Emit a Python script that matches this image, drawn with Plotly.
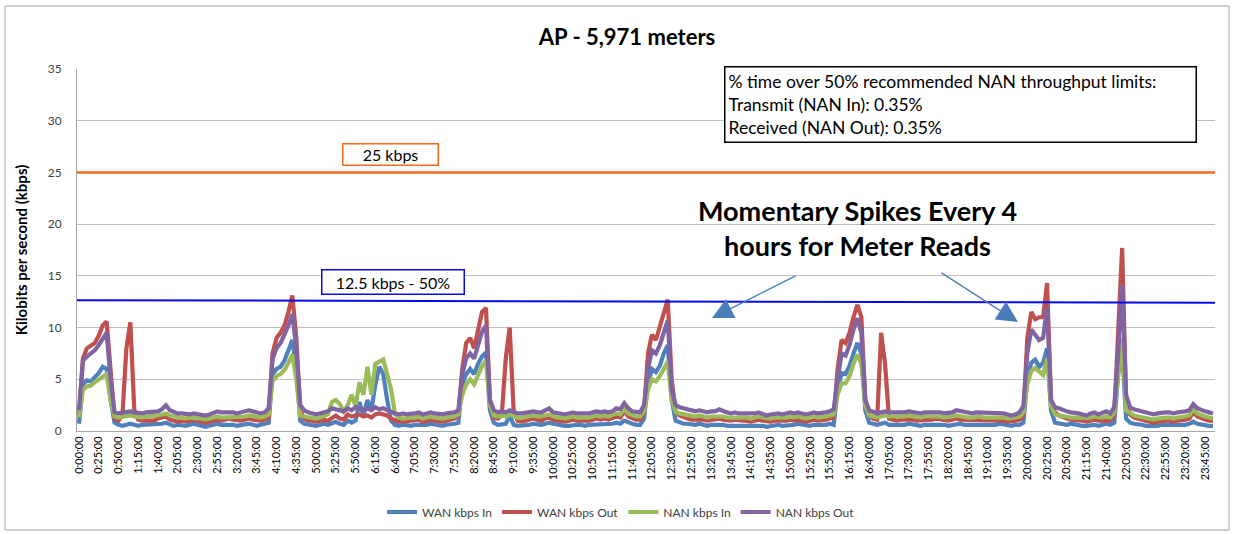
import plotly.graph_objects as go

# 5-minute samples over one day (288 points)
times = [f"{(m // 60)}:{m % 60:02d}:00" for m in range(0, 1440, 5)]
tick_labels = times[::5]

wan_in = [
    0.7, 4.5, 4.9, 4.8, 5.2, 5.6, 6.2, 6.0, 3.0, 0.8, 0.6, 0.5,
    0.6, 0.7, 0.6, 0.5, 0.6, 0.6, 0.7, 0.6, 0.6, 0.7, 0.8, 0.6,
    0.5, 0.6, 0.5, 0.5, 0.6, 0.7, 0.6, 0.5, 0.4, 0.5, 0.6, 0.7,
    0.6, 0.6, 0.7, 0.6, 0.5, 0.6, 0.6, 0.7, 0.6, 0.5, 0.6, 0.7,
    0.8, 5.5, 6.0, 6.2, 6.8, 7.8, 8.8, 6.0, 1.0, 0.7, 0.6, 0.6,
    0.5, 0.6, 0.7, 0.6, 0.8, 0.9, 0.7, 0.6, 1.0, 0.8, 1.0, 2.8,
    1.5, 3.0, 2.0, 4.5, 6.2, 5.5, 3.0, 1.0, 0.6, 0.5, 0.6, 0.5,
    0.5, 0.6, 0.6, 0.5, 0.6, 0.7, 0.6, 0.5, 0.5, 0.6, 0.6, 0.7,
    0.8, 4.5, 5.5, 6.0, 5.5, 6.5, 7.2, 7.6, 2.0, 0.8, 0.6, 0.6,
    0.7, 1.5, 0.6, 0.5, 0.5, 0.6, 0.6, 0.7, 0.6, 0.6, 0.7, 0.8,
    0.7, 0.6, 0.6, 0.5, 0.5, 0.6, 0.6, 0.6, 0.5, 0.6, 0.6, 0.7,
    0.6, 0.7, 0.6, 0.7, 0.8, 0.7, 1.0, 0.8, 0.7, 0.6, 0.6, 1.2,
    4.5, 6.0, 5.7, 6.3, 7.5, 8.3, 3.0, 1.0, 0.8, 0.7, 0.7, 0.6,
    0.6, 0.7, 0.6, 0.5, 0.6, 0.6, 0.7, 0.6, 0.5, 0.5, 0.6, 0.6,
    0.6, 0.5, 0.5, 0.6, 0.6, 0.5, 0.4, 0.5, 0.6, 0.6, 0.5, 0.5,
    0.6, 0.6, 0.7, 0.6, 0.5, 0.5, 0.6, 0.6, 0.5, 0.6, 0.7, 0.6,
    4.0, 5.6, 5.5, 6.3, 7.5, 8.5, 7.5, 2.0, 0.8, 0.7, 0.6, 0.7,
    0.8, 0.6, 0.6, 0.5, 0.6, 0.6, 0.7, 0.6, 0.6, 0.5, 0.6, 0.6,
    0.6, 0.7, 0.6, 0.6, 0.5, 0.6, 0.7, 0.7, 0.6, 0.6, 0.5, 0.6,
    0.6, 0.6, 0.5, 0.6, 0.6, 0.7, 0.6, 0.5, 0.5, 0.6, 0.6, 0.8,
    5.0, 6.6, 6.9, 6.2, 6.6, 8.0, 2.0, 0.8, 0.7, 0.6, 0.6, 0.7,
    0.6, 0.6, 0.5, 0.5, 0.6, 0.6, 0.5, 0.6, 0.7, 0.6, 0.8, 5.5,
    8.0, 1.2, 0.8, 0.7, 0.7, 0.6, 0.5, 0.5, 0.4, 0.5, 0.6, 0.6,
    0.6, 0.5, 0.5, 0.6, 0.6, 0.7, 0.9, 0.7, 0.6, 0.5, 0.5, 0.5,
]

wan_out = [
    1.5, 7.0, 8.0, 8.2, 8.5, 9.2, 10.2, 10.6, 6.0, 1.2, 1.0, 1.5,
    8.0, 10.5, 2.0, 1.1, 1.0, 1.0, 1.1, 1.0, 1.2, 1.3, 1.4, 1.1,
    1.0, 0.9, 1.0, 0.9, 1.0, 1.1, 1.0, 0.9, 0.8, 0.9, 1.0, 1.1,
    1.0, 1.1, 1.2, 1.1, 1.0, 1.0, 1.1, 1.2, 1.1, 1.0, 1.0, 1.1,
    1.3, 7.5, 9.0, 9.5, 10.2, 11.5, 13.1, 9.0, 2.0, 1.2, 1.0, 1.0,
    0.9, 1.0, 1.1, 1.0, 1.3, 1.5, 1.2, 1.1, 1.6, 1.4, 1.5, 1.6,
    1.4, 1.5, 1.3, 1.6, 1.7, 1.6, 1.5, 1.2, 1.0, 0.9, 1.0, 0.9,
    1.0, 1.0, 1.1, 0.9, 1.0, 1.1, 1.0, 0.9, 0.9, 1.0, 1.1, 1.2,
    1.5, 6.0, 8.5, 9.0, 8.0, 10.0, 11.5, 11.9, 3.0, 1.3, 1.2, 1.5,
    7.0, 10.0, 2.0, 1.0, 0.9, 1.0, 1.1, 1.2, 1.1, 1.0, 1.2, 1.3,
    1.1, 1.0, 1.0, 0.9, 1.0, 1.1, 1.0, 1.0, 0.9, 1.0, 1.1, 1.2,
    1.1, 1.2, 1.1, 1.2, 1.4, 1.3, 1.9, 1.4, 1.2, 1.1, 1.1, 1.8,
    7.5, 9.3, 8.8, 10.0, 11.5, 12.7, 5.0, 1.8, 1.5, 1.3, 1.2, 1.1,
    1.1, 1.2, 1.1, 1.0, 1.1, 1.1, 1.2, 1.1, 1.0, 1.0, 1.1, 1.0,
    1.0, 1.0, 0.9, 1.0, 1.1, 1.0, 0.9, 0.9, 1.0, 1.0, 0.9, 1.0,
    1.1, 1.0, 1.1, 1.0, 0.9, 1.0, 1.1, 1.0, 1.0, 1.1, 1.2, 1.3,
    6.0, 8.8, 8.5, 9.5, 11.0, 12.2, 11.0, 3.0, 1.5, 1.2, 1.1, 9.5,
    6.5, 1.2, 1.1, 1.0, 1.1, 1.1, 1.2, 1.1, 1.0, 1.0, 1.1, 1.1,
    1.1, 1.2, 1.1, 1.0, 1.0, 1.1, 1.2, 1.1, 1.1, 1.0, 1.0, 1.1,
    1.1, 1.0, 1.0, 1.1, 1.0, 1.1, 1.0, 0.9, 0.9, 1.0, 1.1, 1.5,
    9.0, 11.5, 10.8, 11.0, 11.0, 14.3, 3.0, 1.8, 1.5, 1.3, 1.2, 1.1,
    1.1, 1.0, 1.0, 0.9, 1.0, 1.1, 1.0, 1.0, 1.1, 1.0, 1.5, 9.0,
    17.7, 3.0, 1.6, 1.3, 1.2, 1.1, 1.0, 0.9, 0.8, 0.9, 1.0, 1.0,
    1.0, 0.9, 1.0, 1.0, 1.1, 1.2, 1.8, 1.4, 1.2, 1.1, 1.0, 1.0,
]

nan_in = [
    1.3, 4.0, 4.3, 4.4, 4.7, 5.0, 5.3, 5.5, 3.0, 1.4, 1.3, 1.4,
    1.4, 1.5, 1.4, 1.3, 1.3, 1.4, 1.4, 1.5, 1.5, 1.6, 1.7, 1.5,
    1.4, 1.3, 1.3, 1.2, 1.3, 1.3, 1.2, 1.2, 1.1, 1.2, 1.3, 1.4,
    1.3, 1.3, 1.4, 1.3, 1.3, 1.4, 1.4, 1.5, 1.4, 1.3, 1.3, 1.4,
    1.6, 4.8, 5.3, 5.5, 5.9, 6.6, 7.4, 5.0, 1.5, 1.4, 1.3, 1.3,
    1.2, 1.3, 1.4, 1.6, 2.8, 3.0, 2.6, 1.9, 2.5, 3.5, 2.4, 4.7,
    3.5, 6.2, 3.5, 6.5, 6.7, 6.9, 5.5, 4.0, 1.6, 1.3, 1.2, 1.3,
    1.3, 1.3, 1.4, 1.2, 1.3, 1.4, 1.3, 1.2, 1.2, 1.3, 1.3, 1.4,
    1.6, 3.5, 4.5, 5.0, 4.5, 5.5, 6.3, 6.8, 2.5, 1.5, 1.4, 1.5,
    1.4, 1.6, 1.4, 1.3, 1.3, 1.4, 1.4, 1.5, 1.4, 1.4, 1.5, 1.6,
    1.4, 1.3, 1.3, 1.2, 1.3, 1.4, 1.3, 1.3, 1.2, 1.3, 1.4, 1.5,
    1.4, 1.5, 1.4, 1.5, 1.7, 1.6, 2.1, 1.7, 1.5, 1.4, 1.4, 1.9,
    4.0, 5.0, 4.8, 5.3, 6.0, 6.7, 3.0, 1.8, 1.7, 1.6, 1.5, 1.4,
    1.4, 1.5, 1.4, 1.3, 1.4, 1.4, 1.5, 1.4, 1.3, 1.3, 1.4, 1.3,
    1.3, 1.3, 1.2, 1.3, 1.4, 1.3, 1.2, 1.2, 1.3, 1.3, 1.2, 1.3,
    1.4, 1.3, 1.4, 1.3, 1.2, 1.3, 1.4, 1.3, 1.3, 1.4, 1.5, 1.6,
    3.5, 4.6, 4.6, 5.3, 6.5, 7.4, 6.5, 2.5, 1.5, 1.4, 1.3, 1.4,
    1.5, 1.4, 1.4, 1.3, 1.4, 1.4, 1.5, 1.4, 1.3, 1.3, 1.4, 1.4,
    1.4, 1.5, 1.4, 1.3, 1.3, 1.4, 1.5, 1.4, 1.4, 1.3, 1.3, 1.4,
    1.4, 1.3, 1.3, 1.4, 1.3, 1.4, 1.3, 1.2, 1.2, 1.3, 1.4, 1.8,
    4.5, 5.8, 6.1, 5.7, 5.4, 7.0, 2.5, 1.6, 1.5, 1.4, 1.4, 1.3,
    1.3, 1.3, 1.2, 1.2, 1.3, 1.4, 1.3, 1.3, 1.4, 1.3, 1.8, 5.5,
    9.0, 2.0, 1.7, 1.5, 1.4, 1.3, 1.2, 1.2, 1.1, 1.2, 1.3, 1.3,
    1.3, 1.2, 1.3, 1.3, 1.4, 1.5, 2.1, 1.7, 1.5, 1.4, 1.3, 1.2,
]

nan_out = [
    2.0, 6.8, 7.2, 7.5, 7.8, 8.3, 9.0, 9.5, 5.0, 1.8, 1.7, 1.8,
    1.8, 1.9, 1.8, 1.7, 1.7, 1.8, 1.8, 1.9, 1.9, 2.1, 2.5, 2.0,
    1.8, 1.7, 1.7, 1.6, 1.6, 1.7, 1.6, 1.6, 1.5, 1.6, 1.7, 1.9,
    1.8, 1.8, 1.9, 1.8, 1.7, 1.8, 1.8, 2.0, 1.9, 1.8, 1.7, 1.8,
    2.2, 7.0, 8.0, 8.5, 9.3, 10.2, 11.3, 8.0, 2.5, 2.0, 1.8, 1.7,
    1.6, 1.7, 1.8, 1.9, 2.2, 2.1, 2.0, 1.9, 2.2, 2.0, 2.3, 2.1,
    2.0, 2.2, 2.0, 2.3, 2.1, 2.2, 2.0, 1.9, 1.7, 1.6, 1.7, 1.6,
    1.6, 1.7, 1.8, 1.6, 1.7, 1.8, 1.7, 1.6, 1.6, 1.7, 1.7, 1.8,
    2.0, 5.5, 7.0, 7.5, 7.0, 8.5, 9.6, 10.2, 3.0, 2.0, 1.8, 1.9,
    1.8, 2.0, 1.8, 1.7, 1.7, 1.8, 1.8, 1.9, 1.8, 1.8, 2.0, 2.2,
    1.8, 1.7, 1.7, 1.6, 1.7, 1.8, 1.7, 1.7, 1.6, 1.7, 1.8, 1.9,
    1.8, 1.9, 1.8, 1.9, 2.2, 2.1, 2.7, 2.2, 1.9, 1.8, 1.8, 2.5,
    6.0, 7.8, 7.5, 8.3, 9.5, 10.7, 4.0, 2.5, 2.3, 2.2, 2.0, 1.9,
    1.9, 2.0, 1.9, 1.8, 1.9, 1.9, 2.1, 1.9, 1.8, 1.7, 1.8, 1.7,
    1.7, 1.7, 1.6, 1.7, 1.8, 1.7, 1.5, 1.6, 1.7, 1.7, 1.6, 1.7,
    1.8, 1.7, 1.8, 1.7, 1.6, 1.7, 1.8, 1.7, 1.7, 1.8, 1.9, 2.1,
    5.0, 7.5, 7.3, 8.3, 9.8, 10.9, 9.5, 3.0, 2.0, 1.8, 1.7, 1.8,
    1.9, 1.8, 1.8, 1.7, 1.8, 1.8, 1.9, 1.8, 1.7, 1.7, 1.8, 1.8,
    1.8, 1.9, 1.8, 1.7, 1.7, 1.8, 2.0, 1.9, 1.8, 1.7, 1.7, 1.8,
    1.8, 1.7, 1.7, 1.8, 1.7, 1.8, 1.7, 1.6, 1.5, 1.6, 1.8, 2.4,
    7.5, 9.8, 9.3, 8.8, 9.0, 12.0, 3.0, 2.3, 2.2, 2.0, 1.9, 1.8,
    1.8, 1.7, 1.6, 1.5, 1.7, 1.8, 1.6, 1.7, 1.9, 1.7, 2.3, 7.5,
    14.1, 3.5, 2.3, 2.1, 2.0, 1.9, 1.8, 1.7, 1.6, 1.7, 1.8, 1.8,
    1.8, 1.7, 1.8, 1.8, 1.9, 2.0, 2.6, 2.2, 2.0, 1.9, 1.8, 1.7,
]

series_names = ["WAN kbps In", "WAN kbps Out", "NAN kbps In", "NAN kbps Out"]
series_colors = ["#4F81BD", "#C0504D", "#9BBB59", "#8064A2"]

limit_full = 25
limit_half_start = 12.65
limit_half_end = 12.4

FONT = "Lato, 'Open Sans', sans-serif"
PL, PR, PT, PB = 77, 1215, 69, 431
PW, PH = PR - PL, PB - PT


def px(x):
    return (x - PL) / PW


def py(y):
    return (PB - y) / PH


fig = go.Figure()
for name, vals, col in zip(series_names, [wan_in, wan_out, nan_in, nan_out], series_colors):
    fig.add_trace(go.Scatter(x=times, y=vals, name=name, mode="lines",
                             line=dict(color=col, width=4.2)))

fig.update_layout(
    width=1233, height=534,
    margin=dict(l=PL, r=1233 - PR, t=PT, b=534 - PB, autoexpand=False),
    paper_bgcolor="white", plot_bgcolor="white",
    font=dict(family=FONT, color="#404040", size=11),
    title=dict(text="<b>AP - 5,971 meters</b>", x=627 / 1233, xanchor="center",
               y=1 - 37 / 534, yanchor="middle",
               font=dict(size=22, color="#000000", family=FONT)),
    showlegend=True,
    legend=dict(orientation="h", x=px(621), xanchor="center", y=py(512), yanchor="middle",
                font=dict(size=12, color="#404040"), itemwidth=30, tracegroupgap=0),
)

fig.update_xaxes(type="category", tickmode="array", tickvals=tick_labels, ticktext=tick_labels,
                 tickangle=-90, showgrid=False, showline=True, linecolor="#A6A6A6",
                 linewidth=1, ticks="", tickfont=dict(size=11, color="#000000"),
                 automargin=False, range=[-0.5, len(times) - 0.5])
fig.update_yaxes(range=[0, 35], dtick=5, showgrid=True, gridcolor="#BFBFBF", gridwidth=1,
                 showline=True, linecolor="#A6A6A6", linewidth=1, zeroline=False,
                 ticks="", ticklabelstandoff=12, tickfont=dict(size=12, color="#404040"),
                 automargin=False,
                 title=dict(text="<b>Kilobits per second (kbps)</b>", standoff=16,
                            font=dict(size=15, color="#000000")))

# reference lines
fig.add_shape(type="line", xref="paper", yref="y", x0=0, x1=1, y0=limit_full, y1=limit_full,
              line=dict(color="#F26B21", width=2.5))
fig.add_shape(type="line", xref="paper", yref="y", x0=0, x1=1, y0=limit_half_start, y1=limit_half_end,
              line=dict(color="#0A0AE6", width=2))

# outer chart border
fig.add_shape(type="rect", xref="paper", yref="paper",
              x0=px(5), x1=px(1229), y0=py(530), y1=py(6),
              line=dict(color="#A0A0A0", width=1))

# text boxes
fig.add_annotation(xref="paper", yref="paper", x=px(390), y=py(154), xanchor="center", yanchor="middle",
                   text="25 kbps", showarrow=False, font=dict(size=16, color="#000000"),
                   bordercolor="#F26B21", borderwidth=1.5, borderpad=1, width=92, height=18,
                   bgcolor="white")
fig.add_annotation(xref="paper", yref="paper", x=px(393), y=py(282), xanchor="center", yanchor="middle",
                   text="12.5 kbps - 50%", showarrow=False, font=dict(size=16, color="#000000"),
                   bordercolor="#0A0AE6", borderwidth=1.5, borderpad=1, width=139, height=21,
                   bgcolor="white")
fig.add_annotation(xref="paper", yref="paper", x=px(960), y=py(105), xanchor="center", yanchor="middle",
                   text="% time over 50% recommended NAN throughput limits:<br>"
                        "Transmit (NAN In): 0.35%<br>Received (NAN Out): 0.35%",
                   showarrow=False, align="left", font=dict(size=17.5, color="#000000"),
                   bordercolor="#000000", borderwidth=1.5, borderpad=3, width=464, height=68,
                   bgcolor="white")
fig.add_annotation(xref="paper", yref="paper", x=px(857), y=py(228), xanchor="center", yanchor="middle",
                   text="<b>Momentary Spikes Every 4<br>hours for Meter Reads</b>",
                   showarrow=False, align="center", font=dict(size=27, color="#000000"))

# arrows
for hx, hy, ax, ay in [(712, 318, 85, -43), (1018, 322, -78, -50)]:
    fig.add_annotation(xref="paper", yref="paper", x=px(hx), y=py(hy),
                       text="", showarrow=True, ax=ax, ay=ay, arrowhead=2, arrowsize=3,
                       arrowwidth=1.4, arrowcolor="#4A7EBB")

fig.write_html("out.html", config={"displayModeBar": False},
               post_script="document.body.style.margin='0';")
